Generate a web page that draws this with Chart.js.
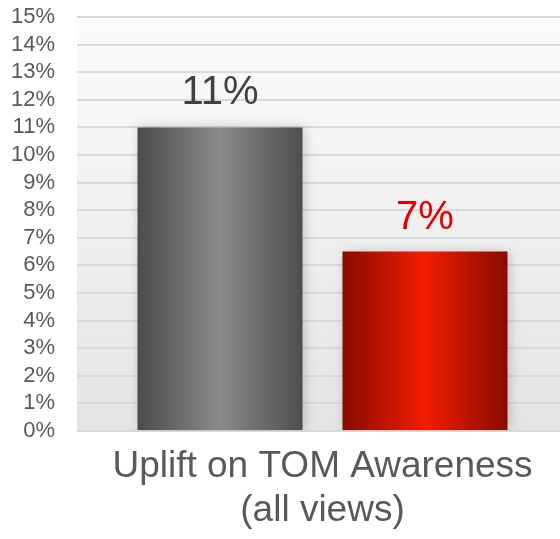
<!DOCTYPE html>
<html>
<head>
<meta charset="utf-8">
<script src="https://cdn.jsdelivr.net/npm/chart.js@4/dist/chart.umd.min.js"></script>
<style>
  html, body { margin: 0; padding: 0; background: #fff; overflow: hidden; }
  /* plot runs a few px past the right edge of the window, as in the source */
  #wrap { width: 568px; height: 539px; }
</style>
</head>
<body>
<div id="wrap"><canvas id="uplift-chart"></canvas></div>
<script>
// values (in percent)
const categories = [['Uplift on TOM Awareness', '(all views)']];
const seriesNames = ['Uplift (grey)', 'Uplift (red)'];
const greyValues = [11];
const redValues = [6.5];
const yMin = 0;
const yMax = 15;
const yStep = 1;

const labelColors = ['#404040', '#e60000'];
const barStops = [
    ['#4c4c4c', '#8a8a8a', '#4e4e4e'],
    ['#870b00', '#f21d00', '#890b00']
];

const FONT = '"Liberation Sans", Arial, sans-serif';

const pct = v => Math.round(v) + '%';

// grey gradient background behind the plot area
const plotBackground = {
    id: 'plotBackground',
    beforeDraw(chart) {
        const { ctx, chartArea: a } = chart;
        const g = ctx.createLinearGradient(0, a.top, 0, a.bottom);
        g.addColorStop(0, '#fbfbfb');
        g.addColorStop(1, '#e4e4e4');
        ctx.save();
        ctx.fillStyle = g;
        ctx.fillRect(a.left, a.top, a.right - a.left, a.bottom - a.top);
        ctx.restore();
    }
};

// horizontal gradient per bar plus a soft shadow
const barLook = {
    id: 'barLook',
    beforeDatasetsDraw(chart) {
        const ctx = chart.ctx;
        chart.data.datasets.forEach((ds, i) => {
            chart.getDatasetMeta(i).data.forEach(bar => {
                const left = bar.x - bar.width / 2;
                const g = ctx.createLinearGradient(left, 0, left + bar.width, 0);
                const s = barStops[i];
                g.addColorStop(0, s[0]);
                g.addColorStop(0.5, s[1]);
                g.addColorStop(1, s[2]);
                bar.options.backgroundColor = g;
            });
        });
        ctx.save();
        ctx.shadowColor = 'rgba(0,0,0,0.18)';
        ctx.shadowBlur = 10;
        ctx.shadowOffsetX = 2;
    },
    afterDatasetsDraw(chart) {
        chart.ctx.restore();
    }
};

// value labels above the bars
const valueLabels = {
    id: 'valueLabels',
    afterDatasetsDraw(chart) {
        const ctx = chart.ctx;
        ctx.save();
        ctx.font = '40px ' + FONT;
        ctx.textAlign = 'center';
        ctx.textBaseline = 'alphabetic';
        chart.data.datasets.forEach((ds, i) => {
            ctx.fillStyle = labelColors[i];
            chart.getDatasetMeta(i).data.forEach((bar, j) => {
                ctx.fillText(pct(ds.data[j]), bar.x, bar.y - 23);
            });
        });
        ctx.restore();
    }
};

new Chart(document.getElementById('uplift-chart'), {
    type: 'bar',
    data: {
        labels: categories,
        datasets: [
            { label: seriesNames[0], data: greyValues, backgroundColor: barStops[0][1] },
            { label: seriesNames[1], data: redValues, backgroundColor: barStops[1][1] }
        ]
    },
    options: {
        responsive: true,
        maintainAspectRatio: false,
        animation: false,
        categoryPercentage: 0.835,
        barPercentage: 0.805,
        layout: { padding: { left: 10, right: 0, top: 17, bottom: 8 } },
        scales: {
            x: {
                grid: { display: false, drawTicks: false },
                border: { display: false },
                ticks: {
                    color: '#595959',
                    padding: 14,
                    font: { family: FONT, size: 37, lineHeight: 1.19 }
                },
                // the wide category label should not push the plot inwards
                afterFit(scale) {
                    scale.paddingLeft = 0;
                    scale.paddingRight = 0;
                    scale.height = 100;
                }
            },
            y: {
                min: yMin,
                max: yMax,
                grid: { color: '#d9d9d9', lineWidth: 2, drawTicks: false },
                border: { display: false },
                ticks: {
                    stepSize: yStep,
                    autoSkip: false,
                    color: '#595959',
                    padding: 22,
                    font: { family: FONT, size: 22 },
                    callback: v => pct(v)
                },
                afterFit(scale) {
                    scale.width = 67;
                    scale.paddingTop = 11;
                    scale.paddingBottom = 0;
                }
            }
        },
        plugins: {
            legend: { display: false },
            tooltip: { enabled: false }
        }
    },
    plugins: [plotBackground, barLook, valueLabels]
});
</script>
</body>
</html>
